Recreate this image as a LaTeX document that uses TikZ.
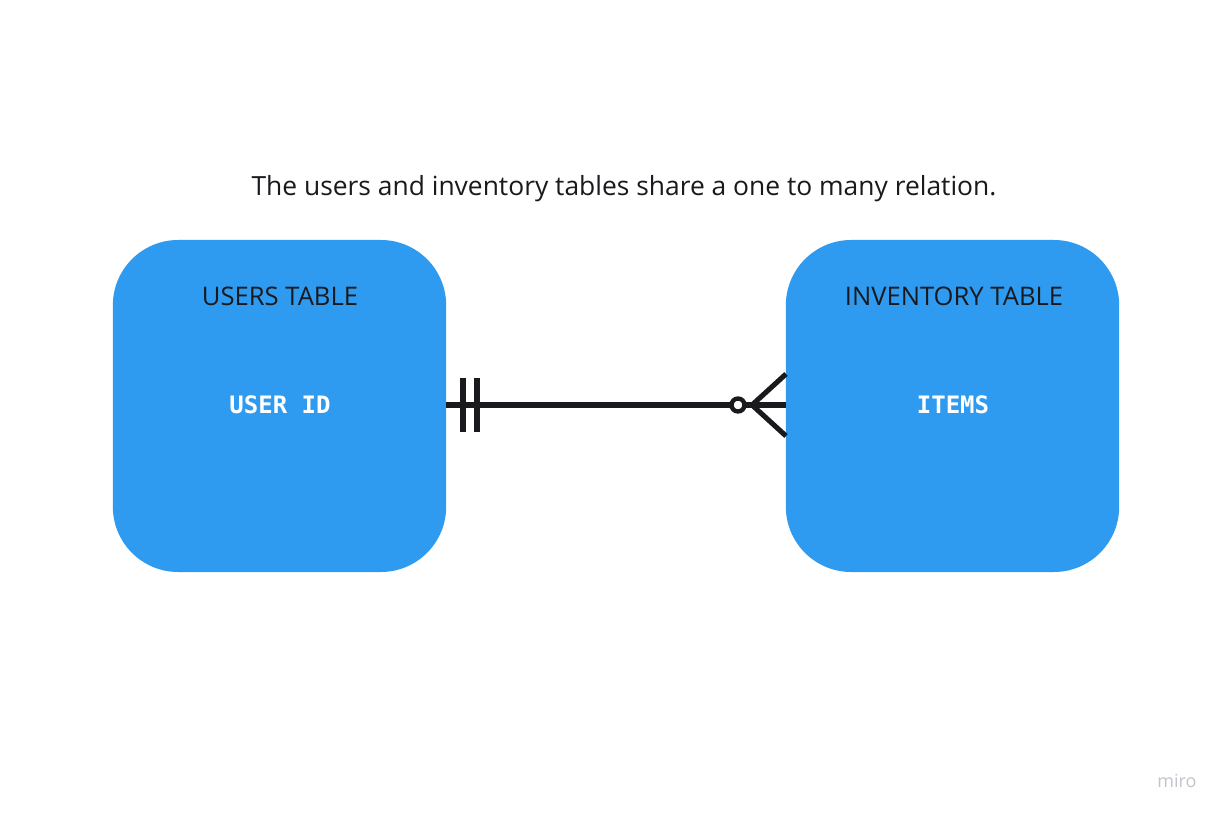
\documentclass[tikz,border=0pt]{standalone}
\usepackage{fontspec}
\setmainfont{Open Sans}
\setmonofont{DejaVu Sans Mono}
\usetikzlibrary{calc}
\definecolor{tableblue}{RGB}{46,155,240}
\definecolor{inkdark}{RGB}{26,26,30}
\definecolor{markgrey}{RGB}{196,196,204}
\tikzset{
  tablebox/.style={draw=none, fill=tableblue, rounded corners=49pt,
    minimum width=250pt, minimum height=249pt, inner sep=0pt},
  tabletitle/.style={text=inkdark, font=\fontsize{19.2}{23}\selectfont},
  fieldname/.style={text=white, font=\ttfamily\bfseries\fontsize{18}{21}\selectfont},
  relline/.style={draw=inkdark, line width=3.8pt}
}
\begin{document}
\begin{tikzpicture}[x=0.75pt, y=-0.75pt]
		%%%%% START %%%%%
		\useasboundingbox[fill=white] (0, 0) rectangle (1224, 816);
		
		\node[text=inkdark, font=\fontsize{19.8}{24}\selectfont] (caption) at (624, 189) {The users and inventory tables share a one to many relation.};
		
		\node[tablebox] (users) at (279.5, 406) {};
		\node[tabletitle] (userstitle) at (280, 296) {USERS TABLE};
		\node[fieldname] (userid) at (280, 405) {USER ID};
		
		\node[tablebox] (inventory) at (952.5, 406) {};
		\node[tabletitle] (inventorytitle) at (954, 296) {INVENTORY TABLE};
		\node[fieldname] (items) at (953, 405) {ITEMS};
		
		\coordinate (onestart) at (446, 405);
		\coordinate (manyend) at (786, 405);
		\draw[relline] (onestart) -- (manyend);
		
		\draw[relline] ($(onestart)+(17, -27)$) -- ($(onestart)+(17, 27)$);
		\draw[relline] ($(onestart)+(31, -27)$) -- ($(onestart)+(31, 27)$);
		
		\draw[relline, fill=white, line width=3.3pt] ($(manyend)+(-48, 0)$) circle (6.5);
		\draw[relline] ($(manyend)+(-34, 0)$) -- ($(manyend)+(0, -31)$);
		\draw[relline] ($(manyend)+(-34, 0)$) -- ($(manyend)+(0, 31)$);
		
		\node[text=markgrey, font=\fontsize{13.5}{16}\selectfont] (mark) at (1177, 781) {miro};
		%%%%% END %%%%%
	\end{tikzpicture}
\end{document}
